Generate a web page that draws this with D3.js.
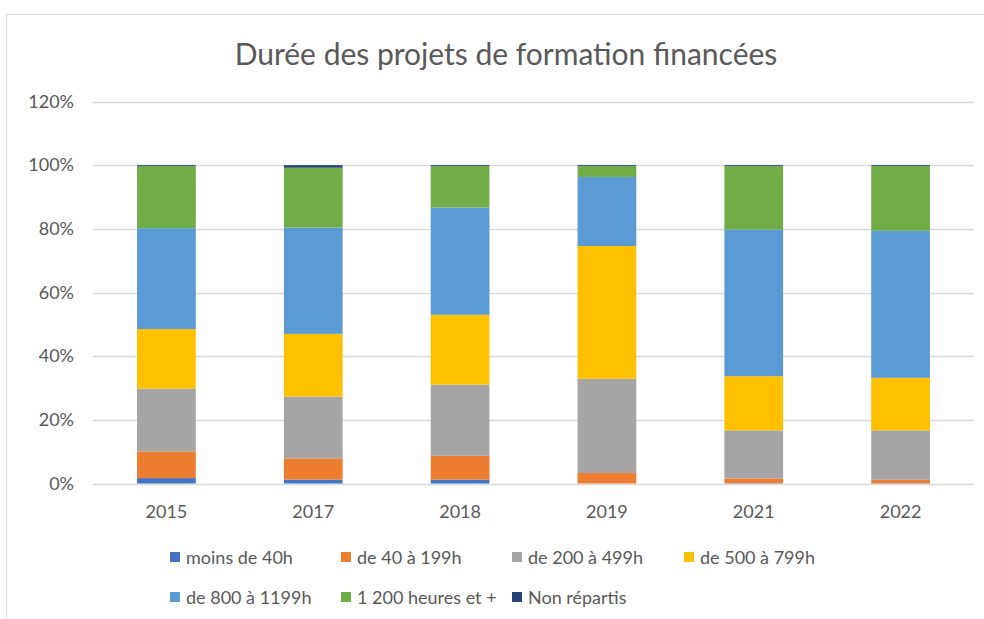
<!DOCTYPE html>
<html>
<head>
<meta charset="utf-8">
<script src="https://cdn.jsdelivr.net/npm/d3@7"></script>
<style>
  body { margin: 0; background: #fff; }
  svg { display: block; font-family: Lato, "Open Sans", sans-serif; }
</style>
</head>
<body>
<div id="chart"></div>
<script>
const annees = ["2015", "2017", "2018", "2019", "2021", "2022"];
const series = ["moins de 40h", "de 40 à 199h", "de 200 à 499h", "de 500 à 799h",
                "de 800 à 1199h", "1 200 heures et +", "Non répartis"];
const couleurs = ["#4472C4", "#ED7D31", "#A5A5A5", "#FFC000", "#5B9BD5", "#70AD47", "#264478"];

// parts en % par année
const moins40  = [1.7, 1.2, 1.2, 0.0, 0.1, 0.1];
const de40     = [8.4, 6.7, 7.5, 3.3, 1.5, 1.1];
const de200    = [19.7, 19.4, 22.4, 29.6, 15.1, 15.5];
const de500    = [18.7, 19.7, 21.9, 41.7, 17.0, 16.5];
const de800    = [31.7, 33.4, 33.7, 21.7, 46.1, 46.2];
const plus1200 = [19.5, 18.8, 13.0, 3.4, 19.9, 20.3];
const nonRep   = [0.3, 0.8, 0.3, 0.3, 0.3, 0.3];
const yTicks = [0, 20, 40, 60, 80, 100, 120];

const valeurs = [moins40, de40, de200, de500, de800, plus1200, nonRep];
const rows = annees.map((a, i) => {
  const r = { annee: a };
  series.forEach((s, k) => r[s] = valeurs[k][i]);
  return r;
});

const W = 984, H = 619;
const svg = d3.select("#chart").append("svg").attr("width", W).attr("height", H);

// cadre du graphique
svg.append("rect")
  .attr("x", 6.5).attr("y", 14.5).attr("width", 1000).attr("height", 700)
  .attr("fill", "#fff").attr("stroke", "#D9D9D9");

svg.append("text")
  .attr("x", 506).attr("y", 65)
  .attr("text-anchor", "middle")
  .attr("font-size", 30)
  .attr("fill", "#595959")
  .text("Durée des projets de formation financées");

const x = d3.scaleBand().domain(annees).range([93, 974]).paddingInner(0.6).paddingOuter(0.3);
const y = d3.scaleLinear().domain([0, 120]).range([483.5, 101.5]);

// grille
svg.append("g").selectAll("line").data(yTicks).join("line")
  .attr("x1", 93).attr("x2", 974)
  .attr("y1", d => Math.round(y(d)) + 0.5).attr("y2", d => Math.round(y(d)) + 0.5)
  .attr("stroke", "#D9D9D9").attr("stroke-width", 1.3);

svg.append("g").selectAll("text").data(yTicks).join("text")
  .attr("x", 74).attr("y", d => y(d) + 6)
  .attr("text-anchor", "end")
  .attr("font-size", 18).attr("fill", "#595959")
  .text(d => d + "%");

const stack = d3.stack().keys(series)(rows);

svg.append("g").selectAll("g").data(stack).join("g")
  .attr("fill", (d, i) => couleurs[i])
  .selectAll("rect").data(d => d).join("rect")
  .attr("x", d => x(d.data.annee))
  .attr("width", x.bandwidth())
  .attr("y", d => y(d[1]))
  .attr("height", d => y(d[0]) - y(d[1]));

svg.append("g").selectAll("text").data(annees).join("text")
  .attr("x", d => x(d) + x.bandwidth() / 2).attr("y", 518)
  .attr("text-anchor", "middle")
  .attr("font-size", 18).attr("fill", "#595959")
  .text(d => d);

// légende
const legX = [170, 341, 512, 684];
const leg = svg.append("g").selectAll("g").data(series).join("g")
  .attr("transform", (d, i) => `translate(${legX[i < 4 ? i : i - 4]},${i < 4 ? 558 : 598})`);
leg.append("rect").attr("x", 0).attr("y", -6).attr("width", 10).attr("height", 10)
  .attr("fill", (d, i) => couleurs[i]);
leg.append("text").attr("x", 16).attr("y", 5.5)
  .attr("font-size", 18).attr("fill", "#595959")
  .text(d => d);
</script>
</body>
</html>
